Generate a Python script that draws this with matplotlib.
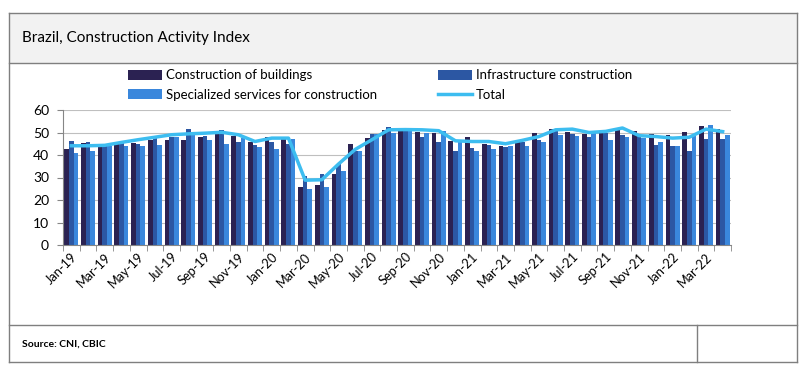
import numpy as np
import matplotlib.pyplot as plt
from matplotlib.patches import Rectangle
from matplotlib.lines import Line2D

plt.rcParams['font.family'] = ['Lato', 'DejaVu Sans']

# monthly index, Jan-19 .. Apr-22
months = ['Jan-19', 'Feb-19', 'Mar-19', 'Apr-19', 'May-19', 'Jun-19', 'Jul-19', 'Aug-19', 'Sep-19', 'Oct-19',
          'Nov-19', 'Dec-19', 'Jan-20', 'Feb-20', 'Mar-20', 'Apr-20', 'May-20', 'Jun-20', 'Jul-20', 'Aug-20',
          'Sep-20', 'Oct-20', 'Nov-20', 'Dec-20', 'Jan-21', 'Feb-21', 'Mar-21', 'Apr-21', 'May-21', 'Jun-21',
          'Jul-21', 'Aug-21', 'Sep-21', 'Oct-21', 'Nov-21', 'Dec-21', 'Jan-22', 'Feb-22', 'Mar-22', 'Apr-22']

buildings = [42.8, 45.3, 44.0, 44.8, 45.3, 46.8, 46.8, 46.8, 48.2, 50.0,
             48.5, 45.7, 47.8, 47.0, 25.7, 26.8, 31.7, 44.8, 47.5, 51.2,
             51.5, 50.4, 50.0, 46.3, 47.8, 44.8, 44.2, 46.0, 50.0, 51.5,
             50.4, 49.4, 50.0, 50.9, 50.7, 49.4, 49.0, 50.4, 53.0, 51.6]

infrastructure = [46.3, 46.0, 44.0, 45.3, 44.8, 47.9, 47.8, 51.5, 48.5, 51.2,
                  46.0, 44.4, 45.7, 44.8, 30.5, 31.5, 36.0, 41.9, 49.3, 52.5,
                  52.2, 47.9, 45.7, 41.6, 43.1, 44.5, 43.5, 45.6, 46.5, 51.5,
                  49.4, 47.9, 50.0, 49.0, 49.4, 44.5, 44.1, 41.6, 47.0, 47.0]

specialized = [40.7, 41.9, 44.0, 43.8, 43.8, 44.5, 47.8, 49.4, 46.8, 45.0,
               47.5, 43.4, 42.8, 47.2, 25.0, 25.8, 33.0, 41.9, 49.3, 50.0,
               51.0, 50.0, 50.7, 45.6, 42.0, 42.8, 44.2, 44.2, 45.7, 49.0,
               48.5, 49.7, 46.8, 48.2, 47.5, 45.7, 44.1, 49.0, 53.2, 49.0]

total = [44.1, 44.1, 44.3, 45.6, 46.8, 47.9, 49.0, 49.4, 49.7, 50.1,
         49.0, 46.0, 47.5, 47.5, 28.8, 29.0, 36.0, 42.5, 46.8, 51.2,
         51.3, 51.2, 50.8, 46.3, 46.0, 46.0, 45.0, 46.5, 48.2, 51.2,
         51.5, 50.0, 50.5, 52.0, 48.6, 48.2, 47.5, 47.9, 51.5, 50.4]

c_build = '#2b2252'
c_infra = '#2c57a3'
c_spec = '#3a87dc'
c_total = '#3dbdf0'

fig = plt.figure(figsize=(8, 3.66), dpi=100)

#########################################################################
# FRAME: TITLE BAND AND SOURCE ROW                                      #
#########################################################################
W, H = 800.0, 366.0
def fx(x): return x / W
def fy(y): return 1 - y / H

fig.add_artist(Rectangle((fx(9), fy(63)), fx(797) - fx(9), fy(13) - fy(63),
                         transform=fig.transFigure, facecolor='#f2f2f2', edgecolor='none'))
border = '#7f7f7f'
for (x0, y0, x1, y1) in [(9, 13, 797, 13), (9, 13, 9, 362), (797, 13, 797, 362), (9, 362, 797, 362),
                         (9, 63, 797, 63), (9, 325, 797, 325), (697, 325, 697, 362)]:
    fig.add_artist(Line2D([fx(x0), fx(x1)], [fy(y0), fy(y1)], transform=fig.transFigure,
                          color=border, lw=1.0))

fig.text(fx(22), fy(38), 'Brazil, Construction Activity Index', fontsize=11, va='center', ha='left')
fig.text(fx(22), fy(344), 'Source: CNI, CBIC', fontsize=7.5, fontweight='bold', va='center', ha='left')

#########################################################################
# BAR + LINE CHART                                                      #
#########################################################################
ax = fig.add_axes([fx(63), fy(245), fx(731) - fx(63), fy(110) - fy(245)])

x = np.arange(len(months))
w = 0.28
ax.bar(x - w, buildings, w, color=c_build, label='Construction of buildings', zorder=2)
ax.bar(x, infrastructure, w, color=c_infra, label='Infrastructure construction', zorder=2)
ax.bar(x + w, specialized, w, color=c_spec, label='Specialized services for construction', zorder=2)
ax.plot(x, total, color=c_total, lw=2.5, label='Total', zorder=3)

ax.set_xlim(-0.5, len(months) - 0.5)
ax.set_ylim(0, 60)
ax.set_yticks(range(0, 61, 10))
ax.grid(axis='y', color='#bfbfbf', lw=0.8, zorder=0)
ax.set_axisbelow(True)

for s in ['top', 'right']:
    ax.spines[s].set_visible(False)
ax.spines['left'].set_color('#868686')
ax.spines['bottom'].set_color('#868686')

ax.set_xticks(x[::2])
ax.set_xticklabels(months[::2], rotation=45, ha='right', rotation_mode='anchor', fontsize=9.2)
ax.tick_params(axis='x', length=0, pad=4)
ax.set_xticks(np.arange(-0.5, len(months), 1), minor=True)
ax.tick_params(axis='x', which='minor', length=4, color='#868686')
ax.tick_params(axis='y', labelsize=10, length=4, color='#868686', pad=6)

# legend filled column by column: buildings/specialized left, infrastructure/total right
handles, labels = ax.get_legend_handles_labels()
order = [1, 3, 2, 0]
handles = [handles[i] for i in order]
labels = [labels[i] for i in order]
fig.legend(handles, labels, ncol=2, loc='center left', bbox_to_anchor=(fx(121), fy(85)),
           frameon=False, fontsize=9.5, handlelength=2.6, handleheight=0.8,
           columnspacing=4.6, labelspacing=0.55, handletextpad=0.3, borderpad=0)

plt.savefig('out.png', dpi=100)
